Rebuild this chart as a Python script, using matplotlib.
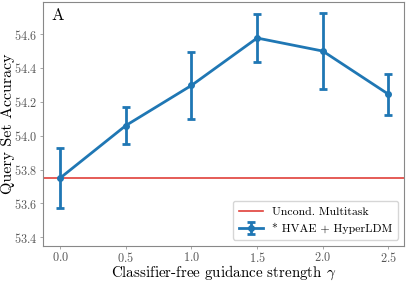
import numpy as np
import matplotlib
matplotlib.use("Agg")
import matplotlib.pyplot as plt

plt.rcParams['font.family'] = 'serif'
plt.rcParams['font.serif'] = ['cmr10', 'DejaVu Serif']
plt.rcParams['mathtext.fontset'] = 'cm'
plt.rcParams['axes.formatter.use_mathtext'] = True

# data
gamma = [0.0, 0.5, 1.0, 1.5, 2.0, 2.5]
acc = [53.75, 54.06, 54.297, 54.577, 54.50, 54.245]
err = [0.18, 0.11, 0.20, 0.14, 0.225, 0.12]
baseline = 53.75

fig, ax = plt.subplots(figsize=(4.07, 2.84), dpi=100)
ax.axhline(baseline, color='#e0403a', lw=1.2, label='Uncond. Multitask')
ax.errorbar(gamma, acc, yerr=err, color='#1f77b4', lw=2, marker='o', ms=4,
            capsize=3, capthick=2, elinewidth=2, label='* HVAE + HyperLDM')

ax.set_xlim(-0.13, 2.62)
ax.set_ylim(53.35, 54.79)
ax.set_xticks([0.0, 0.5, 1.0, 1.5, 2.0, 2.5])
ax.set_yticks([53.4, 53.6, 53.8, 54.0, 54.2, 54.4, 54.6])
ax.tick_params(length=2.5, width=0.6, color='#999999', labelsize=8.8,
               labelcolor='#555555', pad=1.5)
for s in ax.spines.values():
    s.set_color('#888888')

ax.set_xlabel(r'Classifier-free guidance strength $\gamma$', fontsize=10.8)
ax.set_ylabel('Query Set Accuracy', fontsize=11.5)
ax.xaxis.set_label_coords(0.5, -0.072)
ax.yaxis.set_label_coords(-0.078, 0.5)
ax.text(0.022, 0.975, 'A', transform=ax.transAxes, fontsize=12, va='top', ha='left')
ax.legend(loc='lower right', fontsize=8.5, handlelength=2.0, borderpad=0.5)

fig.subplots_adjust(left=0.106, right=0.993, top=0.993, bottom=0.135)
fig.savefig('out.png', dpi=100)
